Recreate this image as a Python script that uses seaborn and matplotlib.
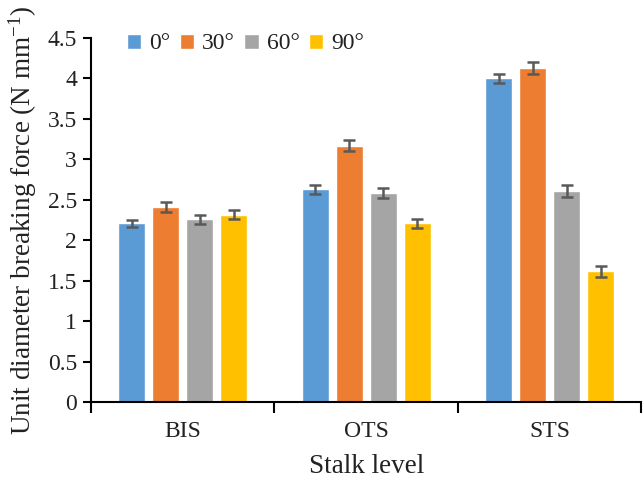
import numpy as np
import pandas as pd
import matplotlib
matplotlib.use("Agg")
import matplotlib.pyplot as plt
import seaborn as sns

# Stalk levels and loading angles
levels = ["BIS", "OTS", "STS"]
angles = ["0°", "30°", "60°", "90°"]

# Mean unit diameter breaking force (N mm^-1) per angle, ordered by stalk level
force_0 = [2.21, 2.63, 4.00]
force_30 = [2.41, 3.17, 4.13]
force_60 = [2.26, 2.59, 2.61]
force_90 = [2.32, 2.21, 1.62]

# Standard errors, same ordering
err_0 = [0.04, 0.05, 0.06]
err_30 = [0.06, 0.065, 0.07]
err_60 = [0.055, 0.06, 0.075]
err_90 = [0.055, 0.06, 0.07]

y_ticks = [0, 0.5, 1, 1.5, 2, 2.5, 3, 3.5, 4, 4.5]
y_tick_labels = ["0", "0.5", "1", "1.5", "2", "2.5", "3", "3.5", "4", "4.5"]

palette = ["#5B9BD5", "#ED7D31", "#A5A5A5", "#FFC000"]

sns.set_theme(style="white")
plt.rcParams["font.family"] = ["Liberation Serif", "DejaVu Serif"]
plt.rcParams["mathtext.fontset"] = "custom"
plt.rcParams["mathtext.rm"] = "Liberation Serif"
plt.rcParams["mathtext.it"] = "Liberation Serif:italic"

means = [force_0, force_30, force_60, force_90]
errs = [err_0, err_30, err_60, err_90]
df = pd.DataFrame({
    "level": [lv for _ in angles for lv in levels],
    "angle": [a for a in angles for _ in levels],
    "force": [v for m in means for v in m],
})

fig = plt.figure(figsize=(6.43, 4.78), dpi=100)
ax = fig.add_axes([0.1415, 0.158, 0.856, 0.7625])

sns.barplot(data=df, x="level", y="force", hue="angle", order=levels,
            hue_order=angles, palette=palette, width=0.74, gap=0.2,
            errorbar=None, saturation=1, ax=ax, legend=True)

# error bars on each bar
for container, e in zip(ax.containers, errs):
    xs = [p.get_x() + p.get_width() / 2 for p in container]
    hs = [p.get_height() for p in container]
    ax.errorbar(xs, hs, yerr=e, fmt="none", ecolor="#595959",
                elinewidth=1.8, capsize=4.5, capthick=1.8, zorder=5)

ax.set_ylim(0, 4.5)
ax.set_xlim(-0.5, 2.5)
ax.set_yticks(y_ticks)
ax.set_yticklabels(y_tick_labels)

# category separators as outward ticks on the x axis
ax.set_xticks([-0.5, 0.5, 1.5, 2.5], minor=True)
ax.tick_params(axis="x", which="major", length=0, labelsize=17, pad=13,
               colors="#222222")
ax.tick_params(axis="x", which="minor", length=8, width=1.5, color="black",
               direction="out", bottom=True)
ax.tick_params(axis="y", which="major", length=6, width=1.5, labelsize=17,
               direction="out", left=True, color="black", pad=4,
               labelcolor="#222222")

for side in ["top", "right"]:
    ax.spines[side].set_visible(False)
for side in ["left", "bottom"]:
    ax.spines[side].set_color("black")
    ax.spines[side].set_linewidth(1.5)

ax.set_xlabel("Stalk level", fontsize=19.5, color="#222222", labelpad=9)
ax.set_ylabel("Unit diameter breaking force (N mm$^{-1}$)", fontsize=19.5,
              color="#222222", labelpad=6)

handles, labels = ax.get_legend_handles_labels()
ax.legend(handles, labels, loc="upper left", bbox_to_anchor=(0.197, 0.93),
          bbox_transform=fig.transFigure, ncol=4, frameon=False, fontsize=17,
          handlelength=0.6, handleheight=0.6, handletextpad=0.35,
          columnspacing=0.4, borderpad=0, borderaxespad=0,
          labelcolor="#222222")

fig.savefig("out.png", dpi=100)
